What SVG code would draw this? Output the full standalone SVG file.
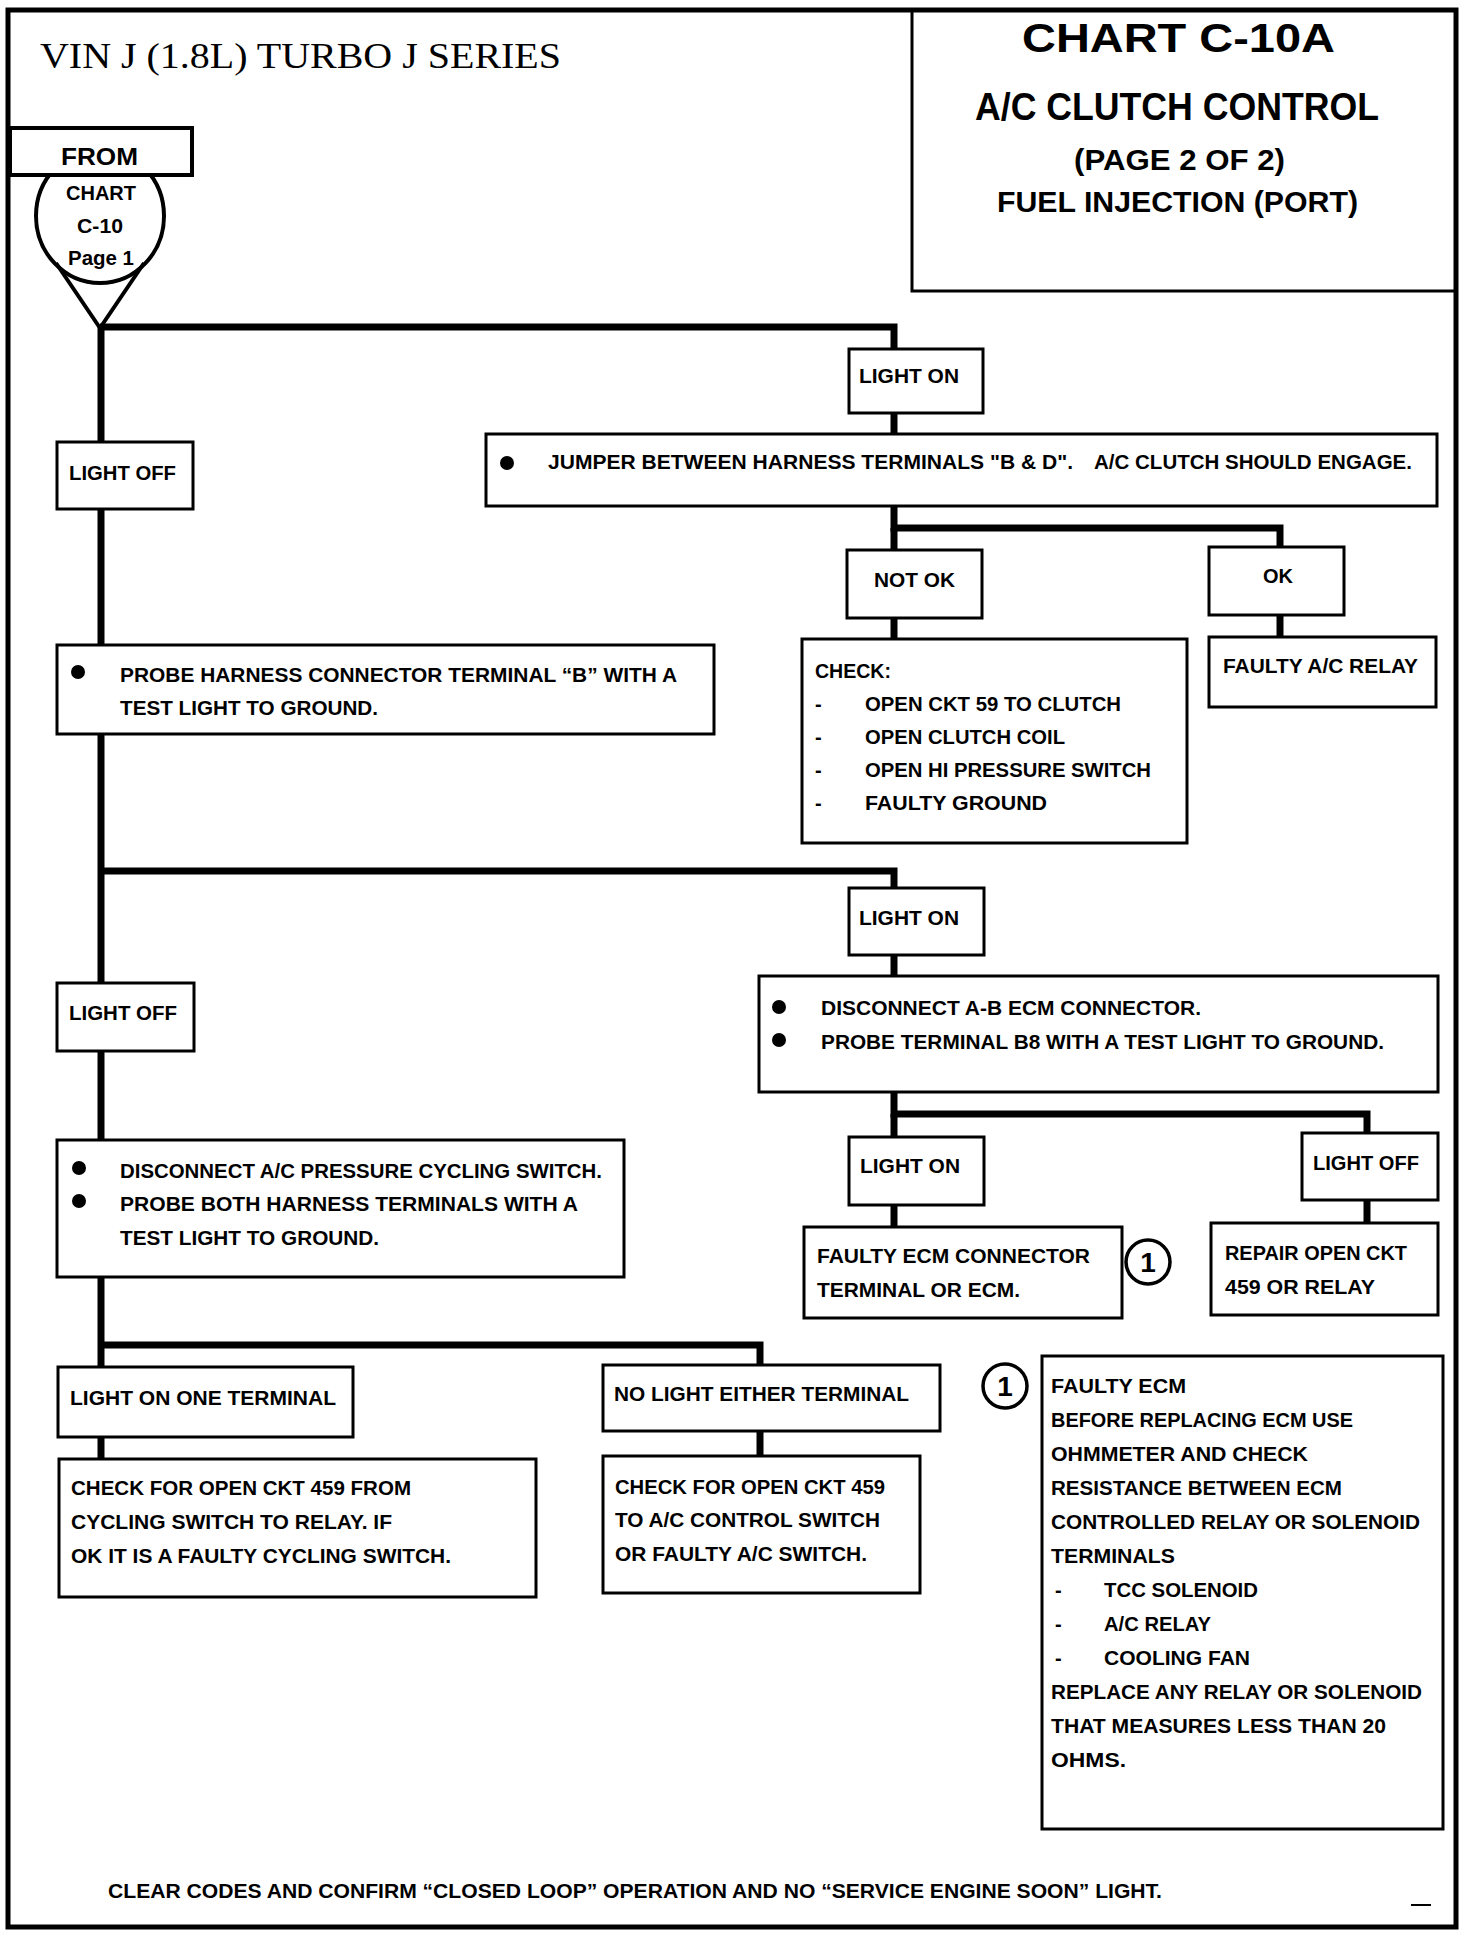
<svg xmlns="http://www.w3.org/2000/svg" width="1472" height="1934" viewBox="0 0 1472 1934">
<style>
.bg{fill:#fff}
.frame{fill:none;stroke:#000;stroke-width:5}
.box{fill:#fff;stroke:#000;stroke-width:3}
.conn{fill:none;stroke:#000;stroke-width:7;stroke-linejoin:miter}
.t{font-family:"Liberation Sans Narrow","Liberation Sans",Arial,sans-serif;font-weight:bold;font-size:20px;fill:#000}
.big{font-size:24px}
.n{font-size:28px}
.serif{font-family:"Liberation Serif","Times New Roman",serif;font-size:36px;fill:#000}
.ttl{font-family:"Liberation Sans Narrow","Liberation Sans",Arial,sans-serif;font-weight:bold;fill:#000}
.bul{fill:#000}
.num{fill:#fff;stroke:#000;stroke-width:3.5}
</style>
<rect class="bg" x="0" y="0" width="1472" height="1934"/>
<rect class="frame" x="8" y="10" width="1448" height="1917"/>

<g id="header">
<text class="serif" x="40" y="68" textLength="521" lengthAdjust="spacingAndGlyphs">VIN J (1.8L) TURBO J SERIES</text>
</g>

<g id="title">
<rect x="912" y="10" width="544" height="281" fill="none" stroke="#000" stroke-width="3"/>
<text class="ttl" x="1022" y="52" font-size="40" textLength="313" lengthAdjust="spacingAndGlyphs">CHART C-10A</text>
<text class="ttl" x="975" y="120" font-size="38" textLength="404" lengthAdjust="spacingAndGlyphs">A/C CLUTCH CONTROL</text>
<text class="ttl" x="1074" y="170" font-size="29" textLength="211" lengthAdjust="spacingAndGlyphs">(PAGE 2 OF 2)</text>
<text class="ttl" x="997" y="212" font-size="29" textLength="361" lengthAdjust="spacingAndGlyphs">FUEL INJECTION (PORT)</text>
</g>

<g id="connectors">
<path class="conn" d="M100 327 H894 V349"/>
<path class="conn" d="M101 327 V442"/>
<path class="conn" d="M894 413 V434"/>
<path class="conn" d="M101 509 V645"/>
<path class="conn" d="M894 506 V528 H1280 V547"/>
<path class="conn" d="M894 528 V550"/>
<path class="conn" d="M894 618 V639"/>
<path class="conn" d="M1280 615 V637"/>
<path class="conn" d="M101 734 V983"/>
<path class="conn" d="M101 871 H894 V888"/>
<path class="conn" d="M894 955 V976"/>
<path class="conn" d="M894 1092 V1114 H1367 V1133"/>
<path class="conn" d="M894 1114 V1137"/>
<path class="conn" d="M894 1205 V1227"/>
<path class="conn" d="M1367 1200 V1223"/>
<path class="conn" d="M101 1051 V1140"/>
<path class="conn" d="M101 1277 V1367"/>
<path class="conn" d="M101 1345 H760 V1365"/>
<path class="conn" d="M101 1437 V1459"/>
<path class="conn" d="M760 1431 V1456"/>
</g>

<g id="from-chart">
<ellipse cx="100" cy="216" rx="64" ry="67" fill="#fff" stroke="#000" stroke-width="4"/>
<path d="M56 263 L100 328 L144 263" fill="none" stroke="#000" stroke-width="4" stroke-linejoin="miter"/>
<rect x="10" y="128" width="182" height="47" fill="#fff" stroke="#000" stroke-width="4"/>
<text class="t big" x="61" y="165" textLength="77" lengthAdjust="spacingAndGlyphs">FROM</text>
<text class="t" x="66" y="200" textLength="70" lengthAdjust="spacingAndGlyphs">CHART</text>
<text class="t" x="77" y="233" textLength="46" lengthAdjust="spacingAndGlyphs">C-10</text>
<text class="t" x="68" y="265" textLength="66" lengthAdjust="spacingAndGlyphs">Page 1</text>
</g>

<g id="light-on-1">
<rect class="box" x="849" y="349" width="134" height="64"/>
<text class="t" x="859" y="383" textLength="100" lengthAdjust="spacingAndGlyphs">LIGHT ON</text>
</g>

<g id="light-off-1">
<rect class="box" x="57" y="442" width="136" height="67"/>
<text class="t" x="69" y="480" textLength="107" lengthAdjust="spacingAndGlyphs">LIGHT OFF</text>
</g>

<g id="jumper">
<rect class="box" x="486" y="434" width="951" height="72"/>
<circle class="bul" cx="507" cy="463" r="7"/>
<text class="t" x="548" y="469" textLength="525" lengthAdjust="spacingAndGlyphs">JUMPER BETWEEN HARNESS TERMINALS "B &amp; D".</text>
<text class="t" x="1094" y="469" textLength="318" lengthAdjust="spacingAndGlyphs">A/C CLUTCH SHOULD ENGAGE.</text>
</g>

<g id="not-ok">
<rect class="box" x="847" y="550" width="135" height="68"/>
<text class="t" x="874" y="587" textLength="81" lengthAdjust="spacingAndGlyphs">NOT OK</text>
</g>

<g id="ok">
<rect class="box" x="1209" y="547" width="135" height="68"/>
<text class="t" x="1263" y="583" textLength="30" lengthAdjust="spacingAndGlyphs">OK</text>
</g>

<g id="check-list">
<rect class="box" x="802" y="639" width="385" height="204"/>
<text class="t" x="815" y="678" textLength="76" lengthAdjust="spacingAndGlyphs">CHECK:</text>
<text class="t" x="815" y="711">-</text>
<text class="t" x="865" y="711" textLength="256" lengthAdjust="spacingAndGlyphs">OPEN CKT 59 TO CLUTCH</text>
<text class="t" x="815" y="744">-</text>
<text class="t" x="865" y="744" textLength="200" lengthAdjust="spacingAndGlyphs">OPEN CLUTCH COIL</text>
<text class="t" x="815" y="777">-</text>
<text class="t" x="865" y="777" textLength="286" lengthAdjust="spacingAndGlyphs">OPEN HI PRESSURE SWITCH</text>
<text class="t" x="815" y="810">-</text>
<text class="t" x="865" y="810" textLength="182" lengthAdjust="spacingAndGlyphs">FAULTY GROUND</text>
</g>

<g id="faulty-ac-relay">
<rect class="box" x="1209" y="637" width="227" height="70"/>
<text class="t" x="1223" y="673" textLength="195" lengthAdjust="spacingAndGlyphs">FAULTY A/C RELAY</text>
</g>

<g id="probe-b">
<rect class="box" x="57" y="645" width="657" height="89"/>
<circle class="bul" cx="78" cy="672" r="7"/>
<text class="t" x="120" y="682" textLength="557" lengthAdjust="spacingAndGlyphs">PROBE HARNESS CONNECTOR TERMINAL “B” WITH A</text>
<text class="t" x="120" y="715" textLength="258" lengthAdjust="spacingAndGlyphs">TEST LIGHT TO GROUND.</text>
</g>

<g id="light-on-2">
<rect class="box" x="849" y="888" width="135" height="67"/>
<text class="t" x="859" y="925" textLength="100" lengthAdjust="spacingAndGlyphs">LIGHT ON</text>
</g>

<g id="light-off-2">
<rect class="box" x="57" y="983" width="137" height="68"/>
<text class="t" x="69" y="1020" textLength="108" lengthAdjust="spacingAndGlyphs">LIGHT OFF</text>
</g>

<g id="disconnect-ecm">
<rect class="box" x="759" y="976" width="679" height="116"/>
<circle class="bul" cx="779" cy="1007" r="7"/>
<circle class="bul" cx="779" cy="1040" r="7"/>
<text class="t" x="821" y="1015" textLength="380" lengthAdjust="spacingAndGlyphs">DISCONNECT A-B  ECM CONNECTOR.</text>
<text class="t" x="821" y="1049" textLength="563" lengthAdjust="spacingAndGlyphs">PROBE TERMINAL B8 WITH A TEST LIGHT TO GROUND.</text>
</g>

<g id="disconnect-cycling">
<rect class="box" x="57" y="1140" width="567" height="137"/>
<circle class="bul" cx="79" cy="1168" r="7"/>
<circle class="bul" cx="79" cy="1201" r="7"/>
<text class="t" x="120" y="1178" textLength="482" lengthAdjust="spacingAndGlyphs">DISCONNECT A/C PRESSURE CYCLING SWITCH.</text>
<text class="t" x="120" y="1211" textLength="458" lengthAdjust="spacingAndGlyphs">PROBE  BOTH HARNESS TERMINALS WITH A</text>
<text class="t" x="120" y="1245" textLength="259" lengthAdjust="spacingAndGlyphs">TEST LIGHT TO GROUND.</text>
</g>

<g id="light-on-3">
<rect class="box" x="849" y="1137" width="135" height="68"/>
<text class="t" x="860" y="1173" textLength="100" lengthAdjust="spacingAndGlyphs">LIGHT ON</text>
</g>

<g id="light-off-3">
<rect class="box" x="1302" y="1133" width="136" height="67"/>
<text class="t" x="1313" y="1170" textLength="106" lengthAdjust="spacingAndGlyphs">LIGHT OFF</text>
</g>

<g id="faulty-ecm-connector">
<rect class="box" x="804" y="1227" width="318" height="91"/>
<text class="t" x="817" y="1263" textLength="273" lengthAdjust="spacingAndGlyphs">FAULTY ECM CONNECTOR</text>
<text class="t" x="817" y="1297" textLength="203" lengthAdjust="spacingAndGlyphs">TERMINAL OR ECM.</text>
</g>

<g id="note-ref-1">
<circle class="num" cx="1148" cy="1262" r="22"/>
<text class="t n" x="1148" y="1272" text-anchor="middle">1</text>
</g>

<g id="repair-open">
<rect class="box" x="1211" y="1223" width="227" height="92"/>
<text class="t" x="1225" y="1260" textLength="182" lengthAdjust="spacingAndGlyphs">REPAIR OPEN CKT</text>
<text class="t" x="1225" y="1294" textLength="150" lengthAdjust="spacingAndGlyphs">459  OR RELAY</text>
</g>

<g id="light-on-one">
<rect class="box" x="58" y="1367" width="295" height="70"/>
<text class="t" x="70" y="1405" textLength="266" lengthAdjust="spacingAndGlyphs">LIGHT ON ONE TERMINAL</text>
</g>

<g id="no-light">
<rect class="box" x="603" y="1365" width="337" height="66"/>
<text class="t" x="614" y="1401" textLength="295" lengthAdjust="spacingAndGlyphs">NO LIGHT EITHER TERMINAL</text>
</g>

<g id="check-cycling">
<rect class="box" x="59" y="1459" width="477" height="138"/>
<text class="t" x="71" y="1495" textLength="340" lengthAdjust="spacingAndGlyphs">CHECK FOR OPEN CKT 459 FROM</text>
<text class="t" x="71" y="1529" textLength="321" lengthAdjust="spacingAndGlyphs">CYCLING SWITCH TO RELAY.  IF</text>
<text class="t" x="71" y="1563" textLength="380" lengthAdjust="spacingAndGlyphs">OK IT IS A FAULTY CYCLING SWITCH.</text>
</g>

<g id="check-control">
<rect class="box" x="603" y="1456" width="317" height="137"/>
<text class="t" x="615" y="1494" textLength="270" lengthAdjust="spacingAndGlyphs">CHECK FOR OPEN CKT 459</text>
<text class="t" x="615" y="1527" textLength="265" lengthAdjust="spacingAndGlyphs">TO A/C CONTROL SWITCH</text>
<text class="t" x="615" y="1561" textLength="252" lengthAdjust="spacingAndGlyphs">OR FAULTY A/C SWITCH.</text>
</g>

<g id="note-1">
<circle class="num" cx="1005" cy="1386" r="22"/>
<text class="t n" x="1005" y="1396" text-anchor="middle">1</text>
<rect class="box" x="1042" y="1356" width="401" height="473"/>
<text class="t" x="1051" y="1393" textLength="135" lengthAdjust="spacingAndGlyphs">FAULTY ECM</text>
<text class="t" x="1051" y="1427" textLength="302" lengthAdjust="spacingAndGlyphs">BEFORE REPLACING ECM USE</text>
<text class="t" x="1051" y="1461" textLength="257" lengthAdjust="spacingAndGlyphs">OHMMETER AND CHECK</text>
<text class="t" x="1051" y="1495" textLength="291" lengthAdjust="spacingAndGlyphs">RESISTANCE BETWEEN ECM</text>
<text class="t" x="1051" y="1529" textLength="369" lengthAdjust="spacingAndGlyphs">CONTROLLED RELAY OR SOLENOID</text>
<text class="t" x="1051" y="1563" textLength="124" lengthAdjust="spacingAndGlyphs">TERMINALS</text>
<text class="t" x="1055" y="1597">-</text>
<text class="t" x="1104" y="1597" textLength="154" lengthAdjust="spacingAndGlyphs">TCC SOLENOID</text>
<text class="t" x="1055" y="1631">-</text>
<text class="t" x="1104" y="1631" textLength="107" lengthAdjust="spacingAndGlyphs">A/C RELAY</text>
<text class="t" x="1055" y="1665">-</text>
<text class="t" x="1104" y="1665" textLength="146" lengthAdjust="spacingAndGlyphs">COOLING FAN</text>
<text class="t" x="1051" y="1699" textLength="371" lengthAdjust="spacingAndGlyphs">REPLACE ANY RELAY OR SOLENOID</text>
<text class="t" x="1051" y="1733" textLength="335" lengthAdjust="spacingAndGlyphs">THAT MEASURES LESS THAN 20</text>
<text class="t" x="1051" y="1767" textLength="75" lengthAdjust="spacingAndGlyphs">OHMS.</text>
</g>

<g id="footer">
<text class="t" x="108" y="1898" textLength="1054" lengthAdjust="spacingAndGlyphs">CLEAR CODES AND CONFIRM “CLOSED LOOP” OPERATION AND NO “SERVICE ENGINE SOON” LIGHT.</text>
<line x1="1411" y1="1905" x2="1431" y2="1905" stroke="#000" stroke-width="2"/>
</g>
</svg>
